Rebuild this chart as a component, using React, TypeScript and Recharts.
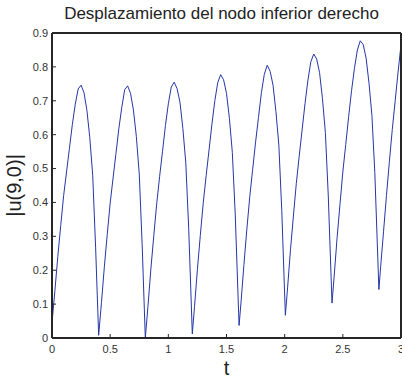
import React from 'react';
import { LineChart, Line, XAxis, YAxis } from 'recharts';

// time samples (minima taken where the curve touches bottom)
const tValues = [
  0, 0.025, 0.05, 0.075, 0.1, 0.125, 0.15, 0.175, 0.2, 0.225, 0.25, 0.275, 0.3, 0.325, 0.35, 0.375, 0.401,
  0.425, 0.45, 0.475, 0.5, 0.525, 0.55, 0.575, 0.6, 0.625, 0.65, 0.675, 0.7, 0.725, 0.75, 0.775, 0.802,
  0.825, 0.85, 0.875, 0.9, 0.925, 0.95, 0.975, 1.0, 1.025, 1.05, 1.075, 1.1, 1.125, 1.15, 1.175, 1.206,
  1.225, 1.25, 1.275, 1.3, 1.325, 1.35, 1.375, 1.4, 1.425, 1.45, 1.475, 1.5, 1.525, 1.55, 1.575, 1.608,
  1.625, 1.65, 1.675, 1.7, 1.725, 1.75, 1.775, 1.8, 1.825, 1.85, 1.875, 1.9, 1.925, 1.95, 1.975, 2.006,
  2.025, 2.05, 2.075, 2.1, 2.125, 2.15, 2.175, 2.2, 2.225, 2.25, 2.275, 2.3, 2.325, 2.35, 2.375, 2.407,
  2.425, 2.45, 2.475, 2.5, 2.525, 2.55, 2.575, 2.6, 2.625, 2.65, 2.675, 2.7, 2.725, 2.75, 2.775, 2.81,
  2.825, 2.85, 2.875, 2.9, 2.925, 2.95, 2.975, 3.0,
];

// |u(9,0)|
const uValues = [
  0.045, 0.140, 0.241, 0.332, 0.420, 0.490, 0.560, 0.630, 0.690, 0.735, 0.746, 0.724, 0.672, 0.591, 0.480, 0.266, 0.008,
  0.104, 0.210, 0.306, 0.398, 0.472, 0.545, 0.619, 0.681, 0.733, 0.744, 0.722, 0.673, 0.595, 0.484, 0.275, 0.0,
  0.094, 0.204, 0.302, 0.396, 0.476, 0.551, 0.627, 0.691, 0.740, 0.755, 0.736, 0.696, 0.618, 0.517, 0.324, 0.012,
  0.092, 0.203, 0.303, 0.398, 0.479, 0.555, 0.632, 0.701, 0.754, 0.777, 0.762, 0.722, 0.648, 0.548, 0.366, 0.037,
  0.106, 0.217, 0.321, 0.417, 0.498, 0.578, 0.651, 0.724, 0.778, 0.805, 0.787, 0.746, 0.668, 0.569, 0.377, 0.067,
  0.148, 0.260, 0.360, 0.456, 0.537, 0.614, 0.692, 0.761, 0.815, 0.838, 0.823, 0.783, 0.706, 0.606, 0.419, 0.103,
  0.180, 0.293, 0.393, 0.490, 0.571, 0.653, 0.730, 0.796, 0.850, 0.877, 0.866, 0.826, 0.752, 0.657, 0.488, 0.143,
  0.210, 0.315, 0.420, 0.520, 0.615, 0.700, 0.785, 0.865,
];

const xTicks = [0, 0.5, 1, 1.5, 2, 2.5, 3];
const yTicks = [0, 0.1, 0.2, 0.3, 0.4, 0.5, 0.6, 0.7, 0.8, 0.9];

const data = tValues.map((t, i) => ({ t, u: uValues[i] }));

const axisColor = '#262626';
const tickStyle = { fill: '#333', fontSize: 11 };

export default function App() {
  return (
    <div
      style={{
        position: 'absolute',
        left: 0,
        top: 0,
        width: 402,
        height: 377,
        background: '#fff',
        fontFamily: '"Liberation Sans", Arial, sans-serif',
      }}
    >
      <div
        style={{
          position: 'absolute',
          left: 0,
          width: 443,
          top: 5,
          textAlign: 'center',
          fontSize: 17,
          lineHeight: '17px',
          color: '#222',
          whiteSpace: 'nowrap',
        }}
      >
        Desplazamiento del nodo inferior derecho
      </div>
      <LineChart width={402} height={377} data={data} margin={{ top: 32, right: 0, bottom: 0, left: 0 }}>
        <XAxis
          xAxisId="b"
          dataKey="t"
          type="number"
          domain={[0, 3]}
          ticks={xTicks}
          interval={0}
          height={39}
          tickSize={-4}
          tickMargin={11}
          axisLine={{ stroke: axisColor, strokeWidth: 2 }}
          tickLine={{ stroke: axisColor }}
          tick={tickStyle}
          label={{ value: 't', position: 'insideBottom', offset: 2, style: { fontSize: 20, fill: '#222' } }}
        />
        <XAxis
          xAxisId="top"
          orientation="top"
          type="number"
          domain={[0, 3]}
          ticks={xTicks}
          interval={0}
          height={1}
          tickSize={-4}
          tick={false}
          axisLine={{ stroke: axisColor, strokeWidth: 2 }}
          tickLine={{ stroke: axisColor }}
        />
        <YAxis
          yAxisId="l"
          type="number"
          domain={[0, 0.9]}
          ticks={yTicks}
          interval={0}
          width={52}
          tickSize={-4}
          tickMargin={8}
          axisLine={{ stroke: axisColor, strokeWidth: 2 }}
          tickLine={{ stroke: axisColor }}
          tick={tickStyle}
          label={{
            value: '|u(9,0)|',
            angle: -90,
            position: 'insideLeft',
            offset: 14,
            style: { textAnchor: 'middle', fontSize: 20, fill: '#222' },
          }}
        />
        <YAxis
          yAxisId="r"
          orientation="right"
          type="number"
          domain={[0, 0.9]}
          ticks={yTicks}
          interval={0}
          width={1}
          tickSize={-4}
          tick={false}
          axisLine={{ stroke: axisColor, strokeWidth: 2 }}
          tickLine={{ stroke: axisColor }}
        />
        <Line
          xAxisId="b"
          yAxisId="l"
          type="linear"
          dataKey="u"
          stroke="#2536a8"
          strokeWidth={1}
          dot={false}
          isAnimationActive={false}
        />
      </LineChart>
    </div>
  );
}
